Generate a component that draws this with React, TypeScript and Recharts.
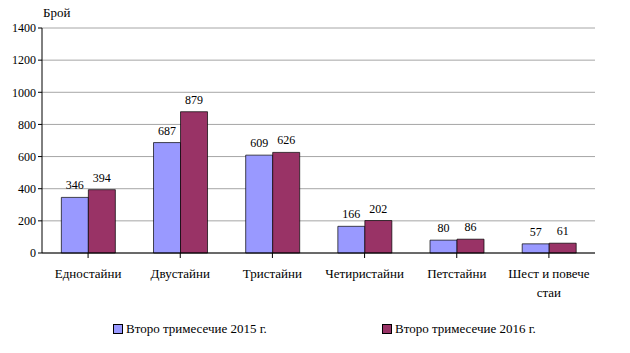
import { Bar, BarChart, CartesianGrid, LabelList, Legend, XAxis, YAxis } from "recharts";

const categories = ["Едностайни", "Двустайни", "Тристайни", "Четиристайни", "Петстайни", "Шест и повече стаи"];
const q2015 = [346, 687, 609, 166, 80, 57];
const q2016 = [394, 879, 626, 202, 86, 61];
const yTicks = [0, 200, 400, 600, 800, 1000, 1200, 1400];
const seriesNames = ["Второ тримесечие 2015 г.", "Второ тримесечие 2016 г."];

const COLORS = ["#9999ff", "#993366"];
const FONT = "Liberation Serif, Tinos, DejaVu Serif, serif";

const data = categories.map((name, i) => ({ name, a: q2015[i], b: q2016[i] }));

function wrapLabel(text: string, max: number) {
  if (text.length <= max) return [text];
  const cut = text.lastIndexOf(" ", max);
  return [text.slice(0, cut), text.slice(cut + 1)];
}

function CategoryTick({ x, y, payload }: any) {
  const lines = wrapLabel(String(payload.value), 14);
  return (
    <text x={x} y={y + 18} textAnchor="middle" fontSize={13} fill="#000" style={{ fontFamily: FONT }}>
      {lines.map((l, i) => (
        <tspan key={i} x={x} dy={i === 0 ? 0 : 19}>
          {l}
        </tspan>
      ))}
    </text>
  );
}

function ChartLegend() {
  return (
    <div style={{ position: "relative", height: 20, marginTop: 20, fontFamily: FONT, fontSize: 13 }}>
      {seriesNames.map((s, i) => (
        <div
          key={s}
          style={{ position: "absolute", left: i === 0 ? 113 : 382, top: 0, display: "flex", alignItems: "center" }}
        >
          <span
            style={{ width: 8, height: 8, background: COLORS[i], border: "1px solid #000", marginRight: 3 }}
          />
          <span>{s}</span>
        </div>
      ))}
    </div>
  );
}

export default function App() {
  return (
    <div style={{ position: "absolute", left: 0, top: 0, width: 630, height: 353, background: "#fff", fontFamily: FONT }}>
      <div style={{ position: "absolute", left: 43, top: 5, fontFamily: FONT, fontSize: 13 }}>Брой</div>
      <BarChart
        width={630}
        height={353}
        data={data}
        margin={{ top: 28, right: 35, left: 0, bottom: 0 }}
        barCategoryGap="21%"
        barGap={0}
        style={{ fontFamily: FONT }}
      >
        <CartesianGrid stroke="#a6a6a6" vertical={false} />
        <XAxis
          dataKey="name"
          stroke="#000"
          tickLine={{ stroke: "#000" }}
          tickSize={5}
          interval={0}
          height={48}
          tick={<CategoryTick />}
        />
        <YAxis
          domain={[0, 1400]}
          ticks={yTicks}
          width={42}
          stroke="#000"
          tickSize={4}
          tick={{ fontSize: 12, fill: "#000", style: { fontFamily: FONT } }}
        />
        <Legend verticalAlign="bottom" height={52} content={<ChartLegend />} />
        <Bar dataKey="a" fill={COLORS[0]} stroke="#000" strokeWidth={0.7} isAnimationActive={false}>
          <LabelList dataKey="a" position="top" offset={8} fontSize={12} fill="#000" style={{ fontFamily: FONT }} />
        </Bar>
        <Bar dataKey="b" fill={COLORS[1]} stroke="#000" strokeWidth={0.7} isAnimationActive={false}>
          <LabelList dataKey="b" position="top" offset={8} fontSize={12} fill="#000" style={{ fontFamily: FONT }} />
        </Bar>
      </BarChart>
    </div>
  );
}
